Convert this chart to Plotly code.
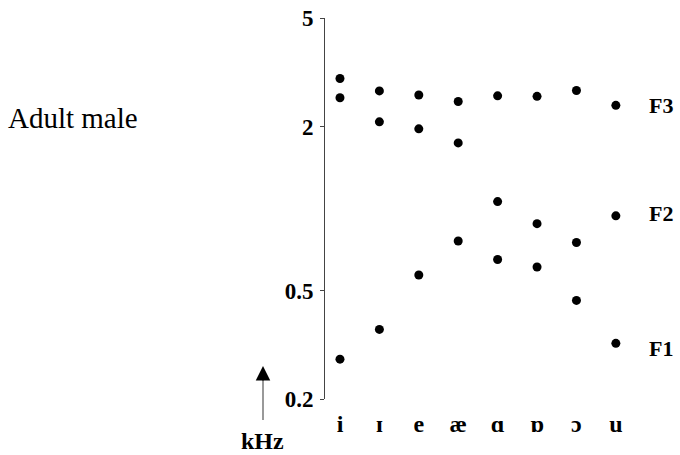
import math
import plotly.graph_objects as go

vowels = ["i", "ɪ", "e", "æ", "ɑ", "ɒ", "ɔ", "u"]
F1 = [0.28, 0.36, 0.57, 0.76, 0.65, 0.61, 0.46, 0.32]
F2 = [2.55, 2.08, 1.96, 1.74, 1.06, 0.88, 0.75, 0.94]
F3 = [3.00, 2.70, 2.61, 2.47, 2.59, 2.58, 2.71, 2.39]
ytick_vals = [0.2, 0.5, 2, 5]
ytick_text = ["0.2", "0.5", "2", "5"]

xpos = list(range(len(vowels)))
SERIF = "Liberation Serif, Times New Roman, DejaVu Serif, serif"

fig = go.Figure()
for name, vals in [("F1", F1), ("F2", F2), ("F3", F3)]:
    fig.add_trace(go.Scatter(x=xpos, y=vals, mode="markers", name=name,
                             marker=dict(color="black", size=9),
                             showlegend=False, cliponaxis=False, hoverinfo="skip"))

W, H = 680, 455
L, R, T = 325, 20, 18
B = H - 399
fig.update_layout(
    width=W, height=H,
    margin=dict(l=L, r=R, t=T, b=B, autoexpand=False),
    paper_bgcolor="white", plot_bgcolor="white",
    font=dict(family=SERIF, color="black"),
    xaxis=dict(range=[-0.38, 8.12], tickvals=xpos,
               ticktext=[f"<b>{v}</b>" for v in vowels],
               showgrid=False, zeroline=False, showline=False, ticks="",
               automargin=False, ticklabelstandoff=8,
               tickfont=dict(family=SERIF, size=24, color="black")),
    yaxis=dict(type="log", range=[math.log10(0.2), math.log10(5)],
               tickvals=ytick_vals, ticktext=[f"<b>{t}</b>" for t in ytick_text],
               showgrid=False, zeroline=False, showline=True, linecolor="#444",
               linewidth=1, ticks="outside", ticklen=4, tickcolor="#444",
               automargin=False, ticklabeloverflow="allow", ticklabelstandoff=2,
               tickfont=dict(family=SERIF, size=23, color="black")),
)

# series labels at right (log axis: annotation y given as log10)
label_y = {"F3": F3[-1], "F2": F2[-1] * 1.02, "F1": F1[-1] * 0.96}
for name, v in label_y.items():
    fig.add_annotation(x=7.8, y=math.log10(v),
                       yref="y", xref="x", text=f"<b>{name}</b>", showarrow=False,
                       xanchor="left", yanchor="middle",
                       font=dict(family=SERIF, size=22, color="black"))

pw = W - L - R
ph = H - T - B
def px(x):
    return (x - L) / pw
def py(y):
    return (H - B - y) / ph

fig.add_annotation(xref="paper", yref="paper", x=px(6), y=py(118),
                   text="Adult male", showarrow=False, xanchor="left", yanchor="middle",
                   font=dict(family=SERIF, size=29, color="black"))
# arrow shaft (grey) and head (black)
fig.add_shape(type="line", xref="paper", yref="paper",
              x0=px(263), x1=px(263), y0=py(378), y1=py(420),
              line=dict(color="#777", width=1.5))
fig.add_annotation(xref="paper", yref="paper", x=px(263), y=py(366),
                   ax=0, ay=16, axref="pixel", ayref="pixel", text="",
                   showarrow=True, arrowhead=2, arrowsize=2.9, arrowwidth=1,
                   arrowcolor="black")
fig.add_annotation(xref="paper", yref="paper", x=px(262), y=py(441),
                   text="<b>kHz</b>", showarrow=False, xanchor="center", yanchor="middle",
                   font=dict(family=SERIF, size=24, color="black"))

fig.write_html("out.html", config={"displayModeBar": False},
               post_script="document.body.style.margin='0';document.body.style.overflow='hidden';")
